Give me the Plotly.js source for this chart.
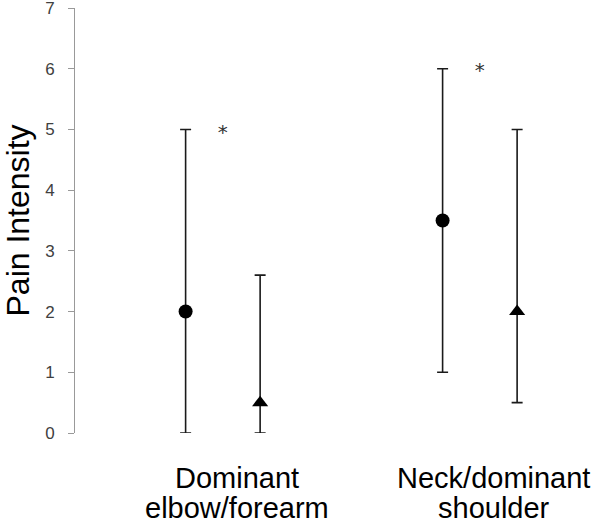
<!DOCTYPE html>
<html>
<head>
<meta charset="utf-8">
<script src="https://cdn.plot.ly/plotly-3.0.1.min.js"></script>
<style>html,body{margin:0;padding:0;background:#fff;}#chart{width:600px;height:527px;}</style>
</head>
<body>
<div id="chart"></div>
<script>
// Data
var categoryLine1 = ["Dominant", "Neck/dominant"];
var categoryLine2 = ["elbow/forearm", "shoulder"];
var categoryPos = [1, 2];
var circleValues = [2.0, 3.5];
var circleLow = [0.0, 1.0];
var circleHigh = [5.0, 6.0];
var triangleValues = [0.5, 2.0];
var triangleLow = [0.0, 0.5];
var triangleHigh = [2.6, 5.0];
var starValues = [4.93, 5.95];
var starLabels = ["*", "*"];
var yTicks = [0, 1, 2, 3, 4, 5, 6, 7];
var yTitle = "Pain Intensity";

var circleOffset = -0.2, triangleOffset = 0.09, starOffset = -0.055;

function errs(v, lo, hi) {
  return {
    plus: hi.map(function (h, i) { return h - v[i]; }),
    minus: v.map(function (x, i) { return x - lo[i]; })
  };
}
var ce = errs(circleValues, circleLow, circleHigh);
var te = errs(triangleValues, triangleLow, triangleHigh);

var traces = [
  {
    type: 'scatter', mode: 'markers',
    x: categoryPos.map(function (p) { return p + circleOffset; }),
    y: circleValues,
    marker: { symbol: 'circle', size: 14, color: '#000' },
    error_y: { type: 'data', symmetric: false, array: ce.plus, arrayminus: ce.minus,
      color: '#1a1a1a', thickness: 1.6, width: 5.5 },
    showlegend: false, hoverinfo: 'skip'
  },
  {
    type: 'scatter', mode: 'markers',
    x: categoryPos.map(function (p) { return p + triangleOffset; }),
    y: triangleValues,
    marker: { symbol: 'triangle-up', size: 14, color: '#000' },
    error_y: { type: 'data', symmetric: false, array: te.plus, arrayminus: te.minus,
      color: '#1a1a1a', thickness: 1.6, width: 5.5 },
    showlegend: false, hoverinfo: 'skip'
  },
  {
    type: 'scatter', mode: 'text',
    x: categoryPos.map(function (p) { return p + starOffset; }),
    y: starValues,
    text: starLabels,
    textposition: 'middle center',
    textfont: { family: 'DejaVu Sans, sans-serif', size: 20, color: '#333' },
    showlegend: false, hoverinfo: 'skip'
  }
];

var catFont = { family: 'Liberation Sans, Arial, sans-serif', size: 29, color: '#000' };
var annotations = [];
categoryPos.forEach(function (p, i) {
  annotations.push({ x: p, xref: 'x', y: -0.105, yref: 'paper', yanchor: 'middle', xanchor: 'center',
    text: categoryLine1[i], showarrow: false, font: catFont });
  annotations.push({ x: p, xref: 'x', y: -0.176, yref: 'paper', yanchor: 'middle', xanchor: 'center',
    text: categoryLine2[i], showarrow: false, font: catFont });
});
annotations.push({ x: 0, xref: 'paper', xshift: -78, xanchor: 'left', y: 0.5, yref: 'paper', yanchor: 'middle',
  text: yTitle, textangle: -90, showarrow: false,
  font: { family: 'Liberation Sans, Arial, sans-serif', size: 32, color: '#000' } });

var layout = {
  width: 600, height: 527,
  margin: { l: 75, r: 0, t: 8, b: 94 },
  paper_bgcolor: '#fff', plot_bgcolor: '#fff',
  font: { family: 'Liberation Sans, Arial, sans-serif', color: '#000' },
  annotations: annotations,
  xaxis: {
    range: [0.3696, 2.4125],
    showticklabels: false,
    showline: false, showgrid: false, zeroline: false, ticks: ''
  },
  yaxis: {
    range: [0, 7],
    tickmode: 'array', tickvals: yTicks,
    showline: true, linecolor: '#999', linewidth: 1,
    ticks: 'outside', ticklen: 6, tickcolor: '#999',
    showgrid: false, zeroline: false,
    ticklabeloverflow: 'allow',
    ticklabelstandoff: 10,
    tickfont: { size: 17, color: '#404040' }
  }
};

Plotly.newPlot('chart', traces, layout, { displayModeBar: false, staticPlot: true });
</script>
</body>
</html>
